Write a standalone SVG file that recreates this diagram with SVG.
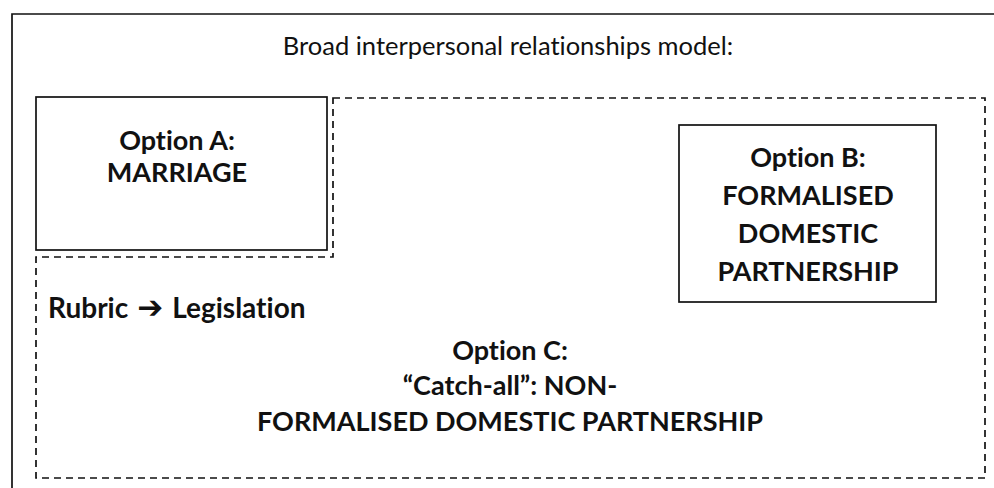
<svg xmlns="http://www.w3.org/2000/svg" width="994" height="488" viewBox="0 0 994 488">
<style>
.box{fill:none;stroke:#111;stroke-width:1.7}
.dash{fill:none;stroke:#111;stroke-width:1.7;stroke-dasharray:7,5}
text{font-variant-ligatures:none}
.t{font-family:Lato,"Liberation Sans",sans-serif;font-size:25.5px;fill:#111;text-anchor:middle}
.b{font-family:Lato,"Liberation Sans",sans-serif;font-size:27px;font-weight:bold;fill:#111;text-anchor:middle}
.l{text-anchor:start;font-size:28px}
.arr{font-family:"DejaVu Sans",sans-serif;font-size:31px}
</style>
<rect width="994" height="488" fill="#fff"/>
<g id="outer">
<path class="box" d="M12,488 V14 H994"/>
<text class="t" x="508" y="55">Broad interpersonal relationships model:</text>
</g>
<g id="optionC">
<path class="dash" d="M333,98 H985 V478 H36 V257 H333 Z"/>
<text class="b l" x="48" y="318">Rubric<tspan class="arr" dx="9">➔</tspan><tspan dx="9">Legislation</tspan></text>
<text class="b" x="510" y="360">Option C:</text>
<text class="b" x="510" y="395">“Catch-all”: NON-</text>
<text class="b" x="510" y="431">FORMALISED DOMESTIC PARTNERSHIP</text>
</g>
<g id="optionA">
<rect class="box" x="36" y="97" width="291" height="153"/>
<text class="b" x="177" y="150">Option A:</text>
<text class="b" x="177" y="182">MARRIAGE</text>
</g>
<g id="optionB">
<rect class="box" x="679" y="125" width="257" height="177"/>
<text class="b" x="808" y="167">Option B:</text>
<text class="b" x="808" y="205">FORMALISED</text>
<text class="b" x="808" y="243">DOMESTIC</text>
<text class="b" x="808" y="281">PARTNERSHIP</text>
</g>
<g id="connectors"></g>
</svg>
